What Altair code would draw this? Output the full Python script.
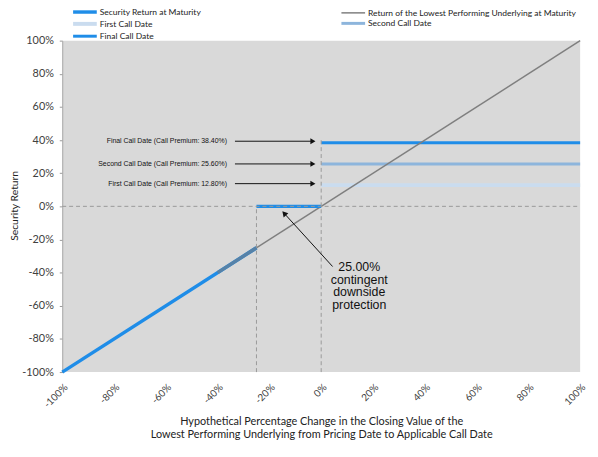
import altair as alt
import pandas as pd

# ---------------- data ----------------
series_names = [
    "Security Return at Maturity",
    "Return of the Lowest Performing Underlying at Maturity",
    "First Call Date",
    "Second Call Date",
    "Final Call Date",
]
series_colors = ["#1f8de8", "#7f7f7f", "#cadcef", "#8db5dc", "#1f8de8"]
series_widths = [3.5, 1.5, 4, 3, 3]

diag_x = [-1.0, 1.0]
diag_y = [-1.0, 1.0]

sec_diag_x = [-1.0, -0.25]
sec_diag_y = [-1.0, -0.25]
sec_flat_x = [-0.25, 0.0]
sec_flat_y = [0.0, 0.0]
overlap_x = [-0.40, -0.25]
overlap_y = [-0.40, -0.25]

call_names = ["First Call Date", "Second Call Date", "Final Call Date"]
call_premiums = [0.128, 0.256, 0.384]
call_x = [0.0, 1.0]

label_texts = [
    "First Call Date (Call Premium: 12.80%)",
    "Second Call Date (Call Premium: 25.60%)",
    "Final Call Date (Call Premium: 38.40%)",
]
label_y = [0.137, 0.256, 0.393]
label_x_end = -0.364
arrow_x_start = -0.333
arrow_x_end = -0.032

prot_text = ["25.00%", "contingent", "downside", "protection"]
prot_text_xy = (0.147, -0.333)
prot_arrow_tail = (0.044, -0.363)
prot_arrow_head = (-0.143, -0.042)

guide_x1 = [-1.0, -0.25, 0.0]
guide_x2 = [1.0, -0.25, 0.0]
guide_y1 = [0.0, -1.0, -1.0]
guide_y2 = [0.0, 0.0, 0.41]

ticks = [-1.0, -0.8, -0.6, -0.4, -0.2, 0.0, 0.2, 0.4, 0.6, 0.8, 1.0]

# ---------------- tables ----------------
rows = []
for n, p in zip(call_names, call_premiums):
    for x in call_x:
        rows.append({"series": n, "seg": n, "x": x, "y": p})
calls_df = pd.DataFrame(rows)

diag_df = pd.DataFrame({"series": series_names[1], "seg": "d", "x": diag_x, "y": diag_y})
sec_df = pd.concat([
    pd.DataFrame({"series": series_names[0], "seg": "a", "x": sec_diag_x, "y": sec_diag_y}),
    pd.DataFrame({"series": series_names[0], "seg": "b", "x": sec_flat_x, "y": sec_flat_y}),
])
overlap_df = pd.DataFrame({"x": overlap_x, "y": overlap_y})
guides_df = pd.DataFrame({"x": guide_x1, "x2": guide_x2, "y": guide_y1, "y2": guide_y2})
labels_df = pd.DataFrame({"text": label_texts, "y": label_y, "x": label_x_end,
                          "xs": arrow_x_start, "xe": arrow_x_end})
prot_df = pd.DataFrame({"x": [prot_text_xy[0]], "y": [prot_text_xy[1]], "text": [prot_text]})
prot_arrow_df = pd.DataFrame({"x": [prot_arrow_tail[0]], "y": [prot_arrow_tail[1]],
                              "x2": [prot_arrow_head[0]], "y2": [prot_arrow_head[1]]})

xs = alt.Scale(domain=[-1, 1], nice=False, zero=False)
ys = alt.Scale(domain=[-1, 1], nice=False, zero=False)

color_scale = alt.Scale(domain=series_names, range=series_colors)
width_scale = alt.Scale(type="ordinal", domain=series_names, range=series_widths)

legend = alt.Legend(
    title=None, orient="none", legendX=18, legendY=-34, columns=2, direction="horizontal",
    symbolType="M-4,0H4", symbolSize=36, symbolStrokeWidth=3,
    labelFont="Lato", labelFontSize=8.6, labelColor="#222222",
    labelLimit=400, columnPadding=136, rowPadding=-4, padding=0, labelOffset=10,
)

minus_fix = "replace(datum.label, '\u2212', '-')"

x_enc = alt.X("x:Q", scale=xs, axis=alt.Axis(
    values=ticks, tickCount=11, format=".0%", labelExpr=minus_fix, labelAngle=-45,
    labelFont="Lato", labelFontSize=10, labelColor="#404040", ticks=False, domain=False,
    grid=False, labelPadding=10, labelOverlap=False,
    title=["Hypothetical Percentage Change in the Closing Value of the",
           "Lowest Performing Underlying from Pricing Date to Applicable Call Date"],
    titleFont="Lato", titleFontSize=11, titleFontWeight="normal", titleColor="#222222",
    titlePadding=6, titleLineHeight=14,
))
y_enc = alt.Y("y:Q", scale=ys, axis=alt.Axis(
    values=ticks, tickCount=11, format=".0%", labelExpr=minus_fix, labelOverlap=False,
    labelFont="Lato", labelFontSize=11,
    labelColor="#404040", tickSize=3, tickColor="#999999", domainColor="#aaaaaa",
    grid=False, labelPadding=6, title="Security Return", titleFont="Lato",
    titleFontSize=10.5, titleFontWeight="normal", titleColor="#222222",
    titleX=-48, titleY=167, titleBaseline="middle", titleAlign="center", titleAngle=270,
))

def line_layer(df):
    return alt.Chart(df).mark_line().encode(
        x=x_enc, y=y_enc,
        color=alt.Color("series:N", scale=color_scale, legend=legend),
        strokeWidth=alt.StrokeWidth("series:N", scale=width_scale, legend=legend),
        detail="seg:N",
    )

calls = line_layer(calls_df)
diag = line_layer(diag_df)
sec = line_layer(sec_df)
overlap = alt.Chart(overlap_df).mark_line(color="#5682a8", strokeWidth=3.5).encode(x="x:Q", y="y:Q")

guides = alt.Chart(guides_df).mark_rule(color="#999999", strokeWidth=1, strokeDash=[4, 3]).encode(
    x="x:Q", x2="x2:Q", y="y:Q", y2="y2:Q")

label_text = alt.Chart(labels_df).mark_text(
    align="right", baseline="middle", font="Liberation Sans", fontSize=7, color="#111111"
).encode(x="x:Q", y="y:Q", text="text:N")
arrow_lines = alt.Chart(labels_df).mark_rule(color="#111111", strokeWidth=1).encode(
    x="xs:Q", x2="xe:Q", y="y:Q")
arrow_heads = alt.Chart(labels_df).mark_point(
    shape="triangle-right", filled=True, color="#111111", size=35, opacity=1
).encode(x="xe:Q", y="y:Q")

prot_text_mark = alt.Chart(prot_df).mark_text(
    align="center", baseline="top", font="Liberation Sans", fontSize=12.5,
    lineHeight=12.7, color="#111111"
).encode(x="x:Q", y="y:Q", text="text")
prot_line = alt.Chart(prot_arrow_df).mark_rule(color="#111111", strokeWidth=1).encode(
    x="x:Q", x2="x2:Q", y="y:Q", y2="y2:Q")
prot_head = alt.Chart(prot_arrow_df).mark_point(
    shape="triangle-up", filled=True, color="#111111", size=40, angle=318, opacity=1
).encode(x="x2:Q", y="y2:Q")

chart = alt.layer(
    calls, diag, sec, overlap, guides, label_text, arrow_lines, arrow_heads,
    prot_text_mark, prot_line, prot_head
).resolve_scale(color="shared", strokeWidth="shared").properties(
    width=525, height=336,
    background="white",
    autosize=alt.AutoSizeParams(type="none"),
    padding={"left": 55, "top": 30, "right": 10, "bottom": 83},
).configure_view(fill="#d9d9d9", stroke=None).configure_axis(labelOverlap=False)

chart.save("out.html", embed_options={"renderer": "svg", "actions": False})
